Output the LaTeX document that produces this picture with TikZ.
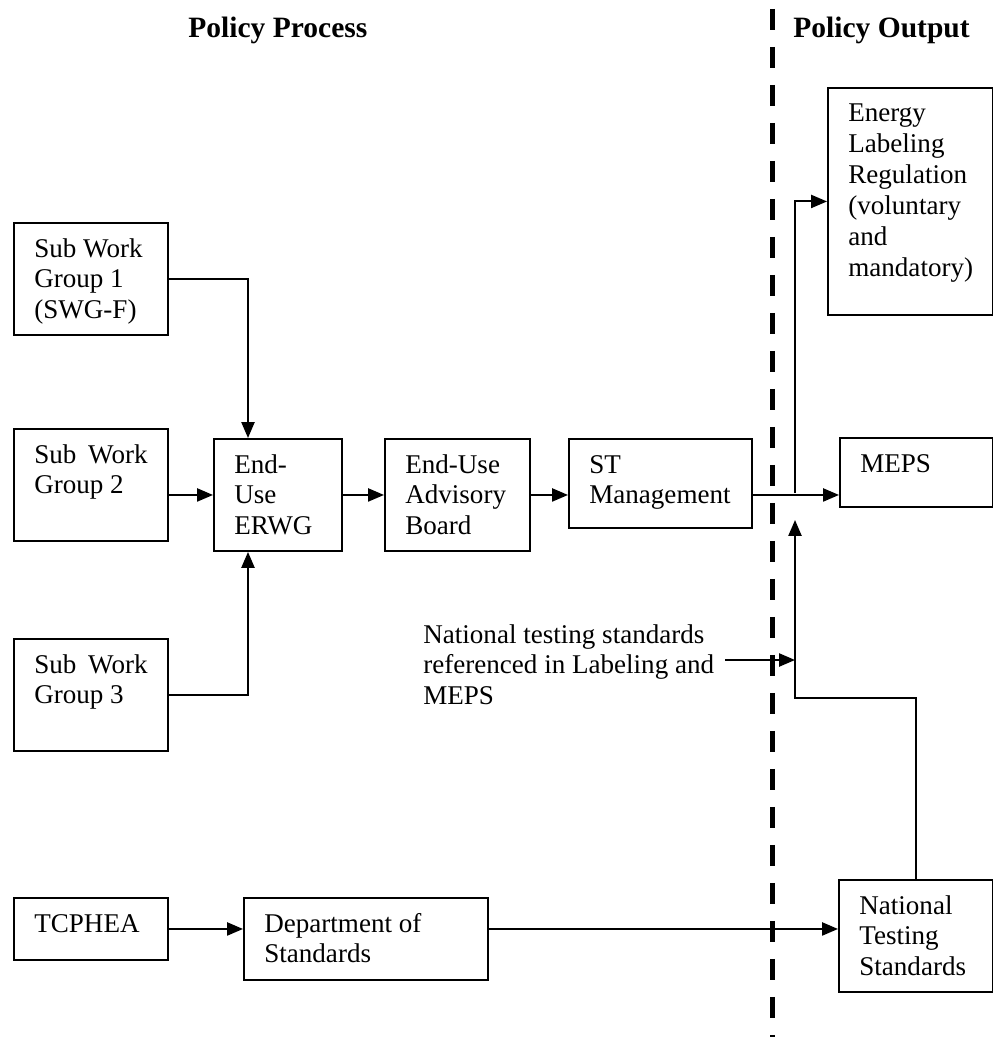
\documentclass[tikz,border=0pt]{standalone}
\usepackage{fontspec}
\setmainfont{Liberation Serif}
\usetikzlibrary{arrows.meta}

\newcommand{\px}{0.02cm}
\newcommand{\lines}[1]{\begin{tabular}[t]{@{}l@{}}#1\end{tabular}}

\tikzset{
	box/.style = {draw, line width = 1.1pt, inner sep = 0pt, anchor = north west},
	txt/.style = {anchor = base west, inner sep = 0pt,
		font = \fontsize{15.4}{17.6}\selectfont},
	head/.style = {anchor = base west, inner sep = 0pt,
		font = \fontsize{16.8}{20}\selectfont\bfseries},
	arr/.style = {line width = 1.1pt, -{Triangle[length = 9pt, width = 7.4pt]}},
	divider/.style = {line width = 2.85pt, dash pattern = on 0.42cm off 0.34cm}
}

\begin{document}
\begin{tikzpicture}[x = \px, y = -\px]

\useasboundingbox (0, 0) rectangle (993, 1037);

\node[head] (process) at (188, 38) {Policy Process};
\node[head] (output) at (793, 38) {Policy Output};

\draw[divider] (772, 9) -- (772, 1037);

\foreach \n/\x/\y/\w/\h/\t in {
	swgA/13/222/154/112/{Sub Work\\Group 1\\(SWG-F)},
	swgB/13/428/154/112/{Sub\hspace{0.1cm} Work\\Group 2},
	swgC/13/638/154/112/{Sub\hspace{0.1cm} Work\\Group 3},
	erwg/213/438/128/112/{End-\\Use\\ERWG},
	board/384/438/145/112/{End-Use\\Advisory\\Board},
	stm/568/438/183/89/{ST\\Management},
	meps/839/437/153/69/{MEPS},
	elr/827/87/165/227/{Energy\\Labeling\\Regulation\\(voluntary\\and\\mandatory)},
	tcphea/13/897/154/62/{TCPHEA},
	dos/243/897/244/82/{Department of\\Standards},
	nts/838/879/154/112/{National\\Testing\\Standards}} {
	\node[box, minimum width = {\w*\px}, minimum height = {\h*\px}] (\n) at (\x, \y) {};
	\node[txt] at ([shift = {(21, 35)}]\n.north west) {\lines{\t}};
}

\node[txt] (note) at (423, 643) {\lines{National testing standards\\referenced in Labeling and\\MEPS}};

% junctions on the output side
\coordinate (j) at (795, 493);
\coordinate (k) at (795, 698);
\coordinate (tip) at (795, 520);
\coordinate (m) at (725, 660);

\draw[arr] (swgA.east) -| ([xshift = {35*\px}]erwg.north west);
\draw[arr] (swgB.east |- erwg.west) -- (erwg.west);
\draw[arr] (swgC.east) -| ([xshift = {35*\px}]erwg.south west);
\draw[arr] (erwg.east) -- (board.west);
\draw[arr] (board.east) -- (board.east -| stm.west);
\draw[arr] (board.east -| stm.east) -- (board.east -| meps.west);
\draw[arr] (j) |- (elr.west);
\draw[arr] (nts.north) |- (k) -- (tip);
\draw[arr] (m) -- (m -| k);

\draw[arr] (tcphea.east) -- (tcphea.east -| dos.west);
\draw[arr] (tcphea.east -| dos.east) -- (tcphea.east -| nts.west);

\end{tikzpicture}
\end{document}
